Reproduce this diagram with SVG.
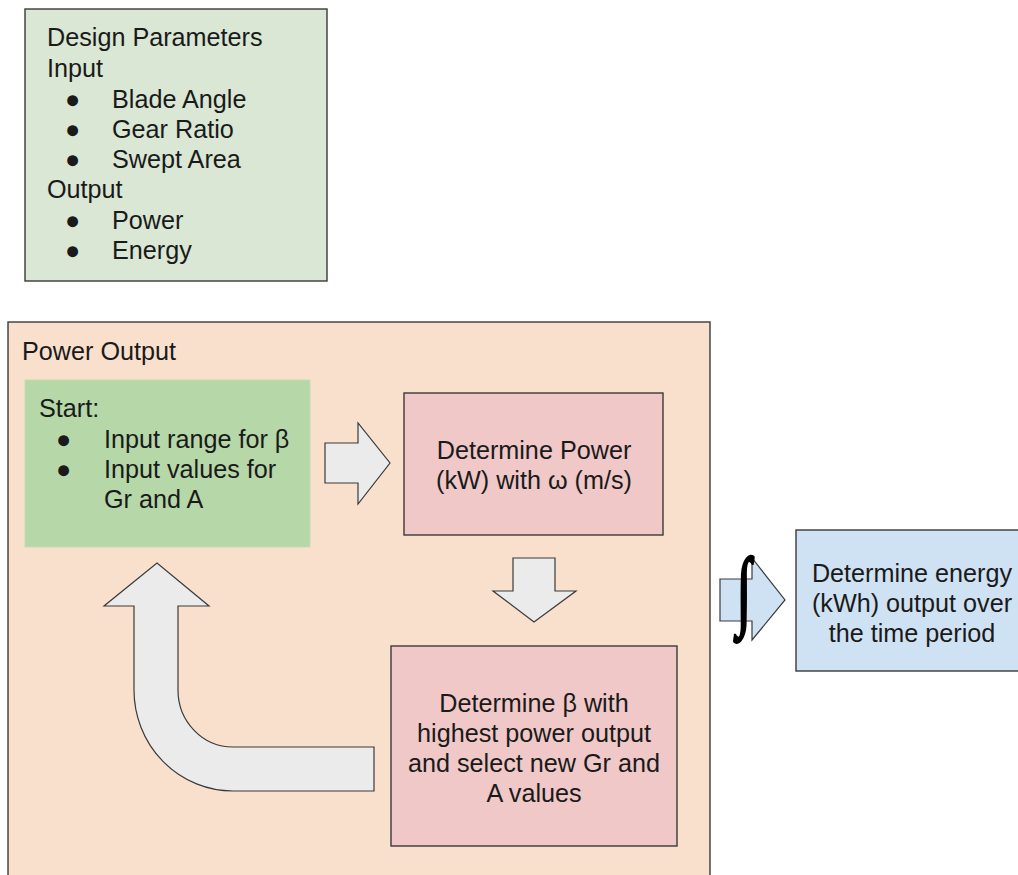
<svg xmlns="http://www.w3.org/2000/svg" width="1018" height="875" viewBox="0 0 1018 875">
<style>
text{font-family:"Liberation Sans",Arial,sans-serif;font-size:25.2px;fill:#1a1a1a}
.c{text-anchor:middle}
.box{stroke:#3a3a3a;stroke-width:1.4}
.arr{fill:#ebebeb;stroke:#3a3a3a;stroke-width:1.2;stroke-linejoin:miter}
</style>
<rect width="1018" height="875" fill="#ffffff"/>
<g id="design-parameters">
<rect class="box" x="25" y="9" width="302" height="272" fill="#d9e7d4"/>
<text x="47" y="46">Design Parameters</text>
<text x="47" y="77">Input</text>
<text x="65" y="108">●</text><text x="112" y="108">Blade Angle</text>
<text x="65" y="138">●</text><text x="112" y="138">Gear Ratio</text>
<text x="65" y="168">●</text><text x="112" y="168">Swept Area</text>
<text x="47" y="198">Output</text>
<text x="65" y="229">●</text><text x="112" y="229">Power</text>
<text x="65" y="259">●</text><text x="112" y="259">Energy</text>
</g>
<g id="power-output">
<rect class="box" x="8" y="322" width="702" height="570" fill="#f9e0cd"/>
<text x="22" y="360">Power Output</text>
</g>
<g id="start">
<rect x="25" y="380" width="285" height="167" fill="#b6d7a8" stroke="#c4dcb6" stroke-width="1"/>
<text x="39" y="417">Start:</text>
<text x="56" y="448">●</text><text x="104" y="448">Input range for β</text>
<text x="56" y="478">●</text><text x="104" y="478">Input values for</text>
<text x="104" y="508">Gr and A</text>
</g>
<g id="determine-power">
<rect class="box" x="404" y="393" width="259" height="142" fill="#efc8c7"/>
<text class="c" x="534" y="459">Determine Power</text>
<text class="c" x="534" y="489">(kW) with ω (m/s)</text>
</g>
<g id="determine-beta">
<rect class="box" x="391" y="646" width="286" height="200" fill="#efc8c7"/>
<text class="c" x="534" y="712">Determine β with</text>
<text class="c" x="534" y="742">highest power output</text>
<text class="c" x="534" y="772">and select new Gr and</text>
<text class="c" x="534" y="802">A values</text>
</g>
<g id="determine-energy">
<rect class="box" x="796" y="530" width="240" height="141" fill="#cfe2f3"/>
<text class="c" x="912" y="582">Determine energy</text>
<text class="c" x="912" y="612">(kWh) output over</text>
<text class="c" x="912" y="642">the time period</text>
</g>
<g id="connectors">
<path class="arr" d="M325,443 H358 V423 L390,463 L358,504 V483 H325 Z"/>
<path class="arr" d="M513,558 H555 V591 H576 L534,622 L493,591 H513 Z"/>
<path class="arr" d="M374,747 H233 A55,57 0 0 1 178,690 V606 H209 L157,563 L104,606 H134 V690 A99,101 0 0 0 233,791 H374 Z"/>
<path class="arr" d="M720,579 H752 V558 L785,600 L752,640 V621 H720 Z" style="fill:#cfe2f3"/>
<text class="c" transform="translate(744,619) scale(0.6,1)" style="font-family:'Liberation Serif',serif;font-size:88px;fill:#000;stroke:#000;stroke-width:3">∫</text>
</g>
</svg>
